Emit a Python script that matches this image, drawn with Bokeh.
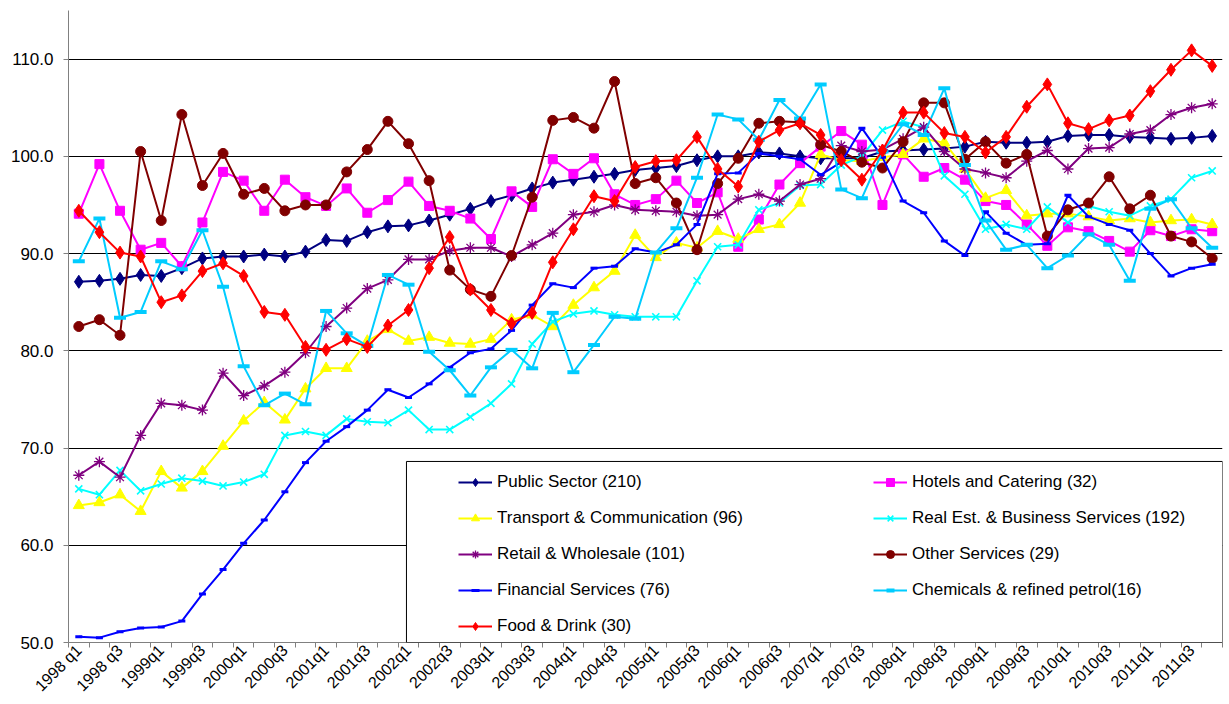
import math
from bokeh.plotting import figure
from bokeh.models import (FixedTicker, NumeralTickFormatter, Legend, LegendItem,
                          BoxAnnotation, Range1d, ColumnDataSource)
from bokeh.embed import file_html
from bokeh.resources import INLINE

# ---------------- data ----------------
quarters = [f"{y}q{q}" for y in range(1998, 2012) for q in range(1, 5)]

tick_labels = ["1998 q1", "1998 q3", "1999q1", "1999q3", "2000q1", "2000q3",
               "2001q1", "2001q3", "2002q1", "2002q3", "2003q1", "2003q3",
               "2004q1", "2004q3", "2005q1", "2005q3", "2006q1", "2006q3",
               "2007q1", "2007q3", "2008q1", "2008q3", "2009q1", "2009q3",
               "2010q1", "2010q3", "2011q1", "2011q3"]

public_sector = [87.1, 87.2, 87.4, 87.8, 87.7, 88.5, 89.5, 89.7, 89.7, 89.9,
                 89.7, 90.2, 91.4, 91.3, 92.2, 92.8, 92.9, 93.4, 94.0, 94.6,
                 95.4, 96.0, 96.7, 97.3, 97.6, 97.9, 98.2, 98.6, 98.8, 99.0,
                 99.6, 100.0, 100.0, 100.4, 100.3, 100.0, 99.8, 99.8, 99.8, 100.5,
                 100.6, 100.7, 100.8, 101.0, 101.5, 101.4, 101.4, 101.5, 102.1, 102.2,
                 102.2, 102.0, 101.9, 101.8, 101.9, 102.1]

hotels = [94.1, 99.2, 94.4, 90.4, 91.1, 88.7, 93.2, 98.4, 97.5, 94.4,
          97.6, 95.8, 94.9, 96.7, 94.2, 95.5, 97.4, 94.9, 94.4, 93.6,
          91.5, 96.4, 94.8, 99.7, 98.2, 99.8, 96.1, 95.0, 95.6, 97.5,
          95.2, 96.3, 90.7, 93.5, 97.1, 99.3, 101.0, 102.6, 101.2, 95.0,
          100.2, 97.9, 98.8, 97.6, 95.4, 95.0, 93.0, 90.8, 92.7, 92.3,
          91.3, 90.2, 92.4, 91.8, 92.5, 92.3]

transport = [64.1, 64.4, 65.2, 63.5, 67.6, 65.9, 67.6, 70.2, 72.8, 74.7,
             72.9, 76.1, 78.2, 78.2, 81.0, 82.2, 81.0, 81.4, 80.8, 80.7,
             81.2, 83.2, 83.7, 82.5, 84.7, 86.5, 88.2, 91.9, 89.6, 91.1,
             90.6, 92.3, 91.5, 92.5, 93.0, 95.2, 100.2, 99.6, 99.5, 99.9,
             100.2, 101.8, 101.4, 98.7, 95.7, 96.5, 93.9, 94.1, 94.1, 93.8,
             93.4, 93.6, 93.2, 93.4, 93.5, 93.0]

real_estate = [65.8, 65.2, 67.7, 65.6, 66.3, 66.9, 66.6, 66.1, 66.5, 67.3,
               71.3, 71.7, 71.3, 73.0, 72.7, 72.6, 73.9, 71.9, 71.9, 73.2,
               74.6, 76.6, 80.7, 83.0, 83.8, 84.1, 83.7, 83.5, 83.5, 83.5,
               87.2, 90.7, 90.9, 94.5, 95.2, 97.0, 97.1, 99.1, 100.0, 102.7,
               103.6, 103.0, 98.0, 96.1, 92.5, 93.0, 92.5, 94.8, 93.2, 94.9,
               94.3, 93.9, 94.9, 95.6, 97.8, 98.5]

retail = [67.2, 68.6, 67.0, 71.3, 74.6, 74.4, 73.9, 77.7, 75.4, 76.4,
          77.8, 79.8, 82.5, 84.4, 86.4, 87.3, 89.4, 89.4, 90.3, 90.6,
          90.6, 89.7, 90.9, 92.1, 94.0, 94.3, 95.0, 94.5, 94.4, 94.3,
          93.9, 94.0, 95.6, 96.1, 95.4, 97.1, 97.7, 101.1, 100.5, 100.7,
          101.8, 103.0, 100.5, 98.7, 98.3, 97.8, 99.5, 100.6, 98.7, 100.8,
          100.9, 102.3, 102.7, 104.3, 105.0, 105.4]

other_services = [82.5, 83.2, 81.6, 100.5, 93.4, 104.3, 97.0, 100.3, 96.1, 96.7,
                  94.4, 95.0, 95.0, 98.4, 100.7, 103.6, 101.3, 97.5, 88.3, 86.3,
                  85.6, 89.8, 95.8, 103.7, 104.0, 102.9, 107.7, 97.2, 97.8, 95.2,
                  90.4, 97.2, 99.8, 103.4, 103.6, 103.5, 101.2, 100.5, 99.4, 98.8,
                  101.5, 105.5, 105.5, 99.7, 101.5, 99.3, 100.2, 91.8, 94.5, 95.2,
                  97.9, 94.6, 96.0, 91.8, 91.2, 89.5]

financial = [50.6, 50.5, 51.1, 51.5, 51.6, 52.2, 55.0, 57.5, 60.2, 62.6,
             65.5, 68.5, 70.7, 72.2, 73.9, 76.0, 75.2, 76.6, 78.3, 79.8,
             80.2, 82.1, 84.7, 86.9, 86.5, 88.5, 88.7, 90.5, 90.1, 90.9,
             93.0, 98.2, 98.3, 100.3, 100.0, 99.7, 98.1, 99.4, 102.9, 99.9,
             95.4, 94.2, 91.3, 89.8, 94.3, 92.1, 90.9, 91.0, 96.0, 93.8,
             93.0, 92.4, 90.0, 87.7, 88.5, 88.9]

chemicals = [89.2, 93.6, 83.4, 84.0, 89.2, 88.4, 92.4, 86.6, 78.4, 74.4,
             75.6, 74.5, 84.1, 81.8, 80.5, 87.8, 86.8, 79.9, 78.0, 75.4,
             78.3, 80.1, 78.2, 83.9, 77.8, 80.6, 83.5, 83.3, 90.1, 92.6,
             97.8, 104.3, 103.8, 101.7, 105.8, 103.9, 107.4, 96.6, 95.7, 100.5,
             103.3, 102.2, 107.0, 99.1, 93.4, 90.4, 90.9, 88.5, 89.8, 92.0,
             90.9, 87.2, 94.6, 95.6, 92.6, 90.6]

food_drink = [94.4, 92.2, 90.1, 89.7, 85.0, 85.7, 88.2, 89.0, 87.7, 84.0,
              83.7, 80.4, 80.1, 81.2, 80.4, 82.6, 84.2, 88.5, 91.7, 86.3,
              84.2, 82.8, 83.9, 89.1, 92.5, 95.9, 95.4, 98.9, 99.5, 99.6,
              102.0, 98.7, 96.9, 101.5, 102.7, 103.4, 102.2, 99.6, 97.6, 100.6,
              104.5, 104.5, 102.4, 102.0, 100.4, 102.0, 105.1, 107.4, 103.4, 102.8,
              103.7, 104.2, 106.7, 108.9, 110.9, 109.3]

series_names = ["Public Sector (210)", "Hotels and Catering (32)",
                "Transport & Communication (96)", "Real Est. & Business Services (192)",
                "Retail & Wholesale (101)", "Other Services (29)",
                "Financial Services (76)", "Chemicals & refined petrol(16)",
                "Food & Drink (30)"]
series_values = [public_sector, hotels, transport, real_estate, retail,
                 other_services, financial, chemicals, food_drink]

# ---------------- styles ----------------
styles = [
    dict(color="#000080", marker="diamond", size=13, mlw=1),
    dict(color="#FF00FF", marker="square", size=9, mlw=1),
    dict(color="#FFFF00", marker="triangle", size=11, mlw=1),
    dict(color="#00FFFF", marker="x", size=10, mlw=1.6),
    dict(color="#800080", marker="asterisk", size=11, mlw=1.3),
    dict(color="#800000", marker="circle", size=10, mlw=1),
    dict(color="#0000FF", marker="dash", size=7, mlw=3),
    dict(color="#00CCFF", marker="dash", size=12, mlw=4),
    dict(color="#FF0000", marker="diamond", size=13, mlw=1),
]

FONT = "Liberation Sans"
n = len(quarters)
x = list(range(n))

p = figure(width=1229, height=704, output_backend="svg", toolbar_location=None,
           x_range=Range1d(-0.5, n - 0.5), y_range=Range1d(50, 115),
           min_border_left=68, min_border_right=7, min_border_top=10,
           min_border_bottom=62)
p.outline_line_color = None
p.background_fill_color = "white"
p.border_fill_color = "white"

# grid
p.xgrid.visible = False
p.ygrid.ticker = FixedTicker(ticks=[60, 70, 80, 90, 100, 110])
p.ygrid.grid_line_color = "black"
p.ygrid.grid_line_width = 1

# y axis
ya = p.yaxis[0]
ya.ticker = FixedTicker(ticks=[50, 60, 70, 80, 90, 100, 110])
ya.formatter = NumeralTickFormatter(format="0.0")
ya.major_tick_out = 5
ya.major_tick_in = 0
ya.minor_tick_out = 0
ya.minor_tick_in = 0
ya.axis_line_color = "#808080"
ya.major_tick_line_color = "#808080"
ya.major_label_text_font = FONT
ya.major_label_text_font_size = "17px"
ya.major_label_text_color = "black"
ya.major_label_standoff = 10

# x axis: tick marks between categories, labels on every second quarter
xa = p.xaxis[0]
label_pos = list(range(0, n, 2))
xa.ticker = FixedTicker(ticks=label_pos, minor_ticks=[i - 0.5 for i in range(n + 1)])
xa.major_label_overrides = {pos: lab for pos, lab in zip(label_pos, tick_labels)}
xa.major_tick_out = 0
xa.major_tick_in = 0
xa.minor_tick_out = 5
xa.minor_tick_in = 0
xa.axis_line_color = "#808080"
xa.minor_tick_line_color = "#808080"
xa.major_label_orientation = math.pi / 4
xa.major_label_text_font = FONT
xa.major_label_text_font_size = "16px"
xa.major_label_text_color = "black"
xa.major_label_standoff = 0

items = {}
for name, vals, st in zip(series_names, series_values, styles):
    src = ColumnDataSource(dict(x=x, y=vals, q=quarters))
    ln = p.line("x", "y", source=src, line_color=st["color"], line_width=2)
    fill = None if st["marker"] in ("x", "asterisk", "dash") else st["color"]
    sc = p.scatter("x", "y", source=src, marker=st["marker"], size=st["size"],
                   fill_color=fill, line_color=st["color"], line_width=st["mlw"])
    items[name] = [ln, sc]

# legend frame
box = BoxAnnotation(left=15.9, right=n - 0.5, bottom=50, top=68.62,
                    fill_color="white", fill_alpha=1.0,
                    line_color="black", line_width=1, line_alpha=1.0)
p.add_layout(box)

order = [0, 2, 4, 6, 8, 1, 3, 5, 7]  # column-major for two columns of five rows
legend = Legend(items=[LegendItem(label=series_names[i], renderers=items[series_names[i]])
                       for i in order],
                location=(390, 6), orientation="vertical", nrows=5,
                padding=0, margin=0, spacing=16,
                glyph_width=34, glyph_height=20, label_height=20,
                label_width=360, label_standoff=5,
                label_text_font=FONT, label_text_font_size="17px",
                label_text_color="black",
                border_line_alpha=0, background_fill_alpha=0)
p.add_layout(legend, "center")

open("out.html", "w").write(file_html(p, INLINE))
